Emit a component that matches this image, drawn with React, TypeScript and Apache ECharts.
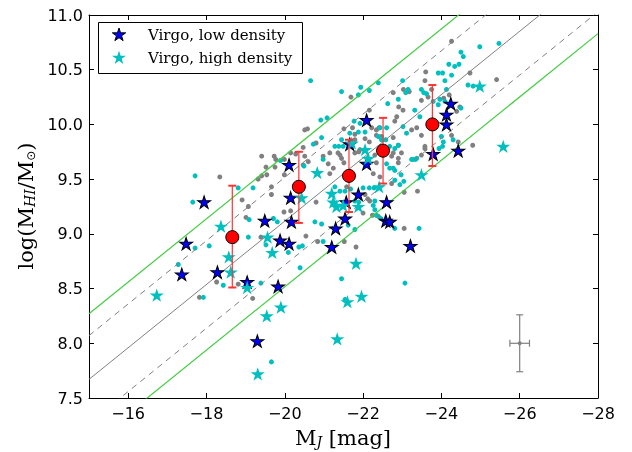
import React, { useEffect, useRef } from "react";
import * as echarts from "echarts";

// ---- data ----
const grayDots: [number, number][] = [
  [-18.34, 9.52], [-19.41, 9.71], [-19.73, 9.71], [-19.77, 9.68], [-19.52, 9.61], [-19.99, 9.68], [-20.15, 9.74], [-20.28, 9.73], [-20.47, 9.79], [-20.51, 9.95],
  [-19.54, 9.54], [-19.66, 9.43], [-19.99, 9.54], [-21.15, 9.55], [-21.36, 9.74], [-21.45, 9.69], [-21.51, 9.65], [-20.8, 9.29], [-18.91, 9.31], [-19.07, 9.25],
  [-21.69, 10.25], [-22.16, 10.13], [-22.77, 10.29], [-22.91, 10.16], [-22.86, 10.07], [-22.81, 10.03], [-23.02, 10.13], [-20.58, 9.96], [-21.51, 9.96], [-21.73, 9.97],
  [-21.79, 9.91], [-22.05, 9.87], [-22.16, 9.84], [-22.34, 9.9], [-22.41, 9.97], [-20.8, 9.83], [-20.98, 9.71], [-21.15, 9.74], [-21.41, 9.72], [-20.51, 9.71],
  [-20.6, 9.66], [-20.47, 9.63], [-21.11, 9.64], [-21.24, 9.6], [-22.3, 9.72], [-22.34, 9.65], [-22.77, 9.74], [-22.9, 9.69], [-22.98, 9.74], [-21.79, 9.74],
  [-21.89, 9.75], [-24.26, 10.76], [-23.6, 10.48], [-23.58, 10.4], [-24.73, 10.47], [-25.41, 10.41], [-23.18, 10.3], [-23.75, 10.32], [-23.66, 10.25], [-23.49, 10.22],
  [-24.2, 10.27], [-24.06, 10.24], [-24.47, 10.16], [-24.39, 10.12], [-23.58, 9.78], [-24.43, 9.84], [-24.8, 9.81], [-23.49, 9.72], [-23.39, 9.39], [-23.05, 9.38],
  [-19.32, 9.5], [-19.41, 9.53], [-19.75, 9.61], [-19.66, 9.36], [-19.01, 9.15], [-19.39, 8.97], [-18.26, 8.56], [-18.81, 8.54], [-19.98, 9.2], [-20.15, 9.21],
  [-20.54, 8.98], [-21.52, 8.93], [-21.82, 8.88], [-22.24, 9.17], [-22.39, 9.16], [-22.05, 9.36], [-22.12, 9.32], [-22.17, 9.3], [-19.18, 8.41], [-17.82, 8.42],
  [-20.84, 8.93], [-22.0, 9.19], [-23.05, 9.05], [-22.22, 9.97], [-22.34, 9.95], [-22.47, 9.89], [-22.77, 9.88], [-22.9, 9.81], [-23.24, 9.95], [-23.37, 9.97],
  [-23.49, 9.9], [-23.66, 10.0], [-21.79, 9.86], [-21.92, 9.77], [-22.43, 9.77], [-22.73, 9.71], [-22.9, 9.65], [-22.26, 9.55], [-22.43, 9.52], [-22.73, 9.46],
  [-21.58, 9.43], [-23.58, 9.8], [-24.26, 9.9], [-23.03, 10.32],
];

const cyanDots: [number, number][] = [
  [-20.66, 10.4], [-21.45, 10.3], [-20.92, 10.04], [-21.08, 10.06], [-20.94, 9.88], [-20.73, 9.82], [-21.45, 9.86], [-21.28, 9.8], [-21.38, 9.8], [-21.49, 9.8],
  [-21.66, 9.92], [-19.89, 9.67], [-17.71, 9.53], [-18.81, 9.42], [-17.65, 9.29], [-20.49, 9.62], [-20.98, 9.68], [-21.94, 10.34], [-22.39, 10.38], [-22.16, 10.31],
  [-21.88, 10.27], [-23.01, 10.4], [-22.9, 10.23], [-22.63, 10.19], [-21.77, 10.03], [-21.92, 10.01], [-21.88, 9.93], [-22.05, 9.93], [-22.43, 9.97], [-22.6, 9.97],
  [-22.39, 9.89], [-22.47, 9.86], [-22.58, 9.86], [-22.68, 9.8], [-22.81, 9.78], [-22.9, 9.81], [-22.6, 9.64], [-22.68, 9.6], [-24.98, 10.71], [-25.47, 10.74],
  [-24.5, 10.66], [-24.56, 10.62], [-24.19, 10.55], [-24.34, 10.53], [-24.45, 10.55], [-23.92, 10.47], [-24.03, 10.47], [-24.26, 10.45], [-24.09, 10.4], [-24.13, 10.32],
  [-24.68, 10.36], [-24.81, 10.35], [-23.09, 10.29], [-23.15, 10.32], [-23.49, 10.32], [-23.55, 10.29], [-23.62, 10.28], [-23.96, 10.23], [-24.09, 10.21], [-23.79, 10.21],
  [-23.92, 10.18], [-23.32, 10.13], [-23.45, 10.07], [-23.02, 9.98], [-23.11, 9.92], [-24.0, 9.89], [-24.05, 9.84], [-23.94, 9.78], [-24.03, 9.8], [-24.3, 9.86],
  [-24.5, 10.15], [-23.28, 9.68], [-23.37, 9.69], [-19.19, 9.42], [-18.07, 8.89], [-17.71, 8.87], [-17.28, 8.72], [-19.07, 8.97], [-19.09, 9.13], [-19.71, 9.14],
  [-19.81, 9.11], [-19.52, 8.9], [-18.43, 8.53], [-19.39, 8.55], [-17.92, 8.42], [-20.77, 9.11], [-20.94, 9.09], [-20.36, 8.88], [-20.45, 8.89], [-20.09, 8.83],
  [-20.98, 8.93], [-21.28, 9.43], [-21.41, 9.39], [-21.54, 9.39], [-21.68, 9.41], [-22.0, 9.42], [-22.16, 9.42], [-22.28, 9.42], [-21.79, 9.3],
  [-21.89, 9.29], [-21.62, 9.08], [-21.79, 9.04], [-22.3, 9.22], [-22.34, 9.17], [-22.45, 9.14], [-22.56, 9.1], [-22.77, 9.6], [-22.81, 9.49], [-22.94, 9.45],
  [-23.04, 9.48], [-20.39, 8.69], [-21.45, 8.59], [-23.07, 8.55], [-19.66, 7.83], [-21.54, 8.4], [-22.26, 9.26], [-22.81, 9.05], [-23.43, 9.05], [-22.81, 9.58],
  [-22.97, 9.54], [-23.24, 9.68], [-23.34, 9.68], [-22.3, 9.3],
];

const lowDensityStars: [number, number][] = [
  [-17.37, 8.63], [-17.48, 8.91], [-17.94, 9.29], [-18.28, 8.65], [-19.04, 8.56], [-19.3, 8.02], [-19.49, 9.12], [-19.83, 8.52], [-19.88, 8.94], [-20.11, 8.91],
  [-20.17, 9.11], [-20.11, 9.63], [-20.15, 9.33], [-21.3, 9.05], [-21.2, 8.88], [-21.54, 9.14], [-22.09, 10.04], [-22.09, 9.64], [-21.88, 9.36], [-22.6, 9.29],
  [-22.58, 9.12], [-22.68, 9.11], [-23.21, 8.89], [-23.79, 9.73], [-24.43, 9.76], [-24.13, 10.09], [-24.13, 10.0], [-24.24, 10.19], [-21.66, 9.82], [-21.57, 9.29],
];

const highDensityStars: [number, number][] = [
  [-20.83, 9.56], [-20.43, 9.33], [-21.2, 9.37], [-18.37, 9.07], [-18.57, 8.79], [-18.62, 8.65], [-16.73, 8.44], [-19.04, 8.51], [-19.56, 8.97], [-19.68, 8.83],
  [-19.9, 8.33], [-19.54, 8.25], [-19.31, 7.72], [-21.34, 8.04], [-21.6, 8.38], [-21.88, 9.25], [-21.82, 8.73], [-21.96, 8.43], [-24.98, 10.35], [-25.58, 9.8],
  [-23.49, 9.54], [-22.41, 9.43], [-22.13, 9.69], [-22.05, 9.77], [-21.71, 9.83], [-21.24, 9.29], [-21.32, 9.25], [-21.49, 9.26],
];

const binX = [-18.66, -20.36, -21.64, -22.51, -23.77];
const binY = [8.97, 9.43, 9.53, 9.76, 10.0];
const binLow = [8.51, 9.1, 9.2, 9.46, 9.62];
const binHigh = [9.44, 9.75, 9.86, 10.06, 10.36];

const relationX = [-15, -28];
const relationY = [7.67, 11.43];
const dashedOffset = 0.4;
const greenOffset = 0.6;

const typicalErr = [[-26, 8.0, 0.25, 0.26]];

const legendLabels = ["Virgo, low density", "Virgo, high density"];

const BLUE = "#0000ff";
const CYAN = "#00bfbf";
const GRAY = "#808080";
const GREEN = "#44cc44";
const STAR =
  "path://M0,-1L0.2245,-0.309L0.951,-0.309L0.363,0.118L0.588,0.809L0,0.382L-0.588,0.809L-0.363,0.118L-0.951,-0.309L-0.2245,-0.309Z";

function starPts(cx: number, cy: number, r: number) {
  const pts: number[][] = [];
  for (let k = 0; k < 10; k++) {
    const a = -Math.PI / 2 + (k * Math.PI) / 5;
    const rr = k % 2 === 0 ? r : r * 0.382;
    pts.push([cx + rr * Math.cos(a), cy + rr * Math.sin(a)]);
  }
  return pts;
}

function relLine(off: number) {
  return relationX.map((x, i) => [x, relationY[i] + off]);
}

export default function App() {
  const ref = useRef<HTMLDivElement>(null);
  useEffect(() => {
    if (!ref.current) return;
    const chart = echarts.init(ref.current, null, { renderer: "svg" });
    const tickFont = { fontFamily: "DejaVu Sans", fontSize: 16, color: "#000" };
    const axisLine = { show: true, lineStyle: { color: "#000", width: 1 } };
    const axisTick = { show: true, inside: true, length: 5, lineStyle: { color: "#000", width: 1 } };
    const xBase = { type: "value", min: -28, max: -15, interval: 2, inverse: true, splitLine: { show: false }, axisLine, axisTick };
    const yBase = { type: "value", min: 7.5, max: 11, interval: 0.5, splitLine: { show: false }, axisLine, axisTick };
    const mainRich = {
      m: { fontFamily: "DejaVu Serif", fontSize: 21, lineHeight: 22, verticalAlign: "top", color: "#000" },
      s: { fontFamily: "DejaVu Serif", fontStyle: "italic", fontSize: 14, lineHeight: 14, verticalAlign: "bottom", padding: [12, 0, 0, 0], color: "#000" },
      o: { fontFamily: "DejaVu Sans", fontSize: 12, lineHeight: 12, verticalAlign: "bottom", padding: [12, 0, 0, 0], color: "#000" },
    };
    const lineSeries = (data: number[][], color: string, type: any, width: number) => ({
      type: "line",
      data,
      symbol: "none",
      silent: true,
      clip: true,
      z: 3,
      lineStyle: { color, width, type, opacity: 1 },
    });
    chart.setOption({
      animation: false,
      grid: { left: 89, right: 34, top: 15, bottom: 54 },
      xAxis: [
        { ...xBase, position: "bottom", axisLabel: { ...tickFont, margin: 7, formatter: (v: number) => (v === -15 ? "" : "\u2212" + Math.abs(v)) } },
        { ...xBase, position: "top", axisLabel: { show: false } },
      ],
      yAxis: [
        { ...yBase, position: "left", axisLabel: { ...tickFont, margin: 6, formatter: (v: number) => v.toFixed(1) } },
        { ...yBase, position: "right", axisLabel: { show: false } },
      ],
      series: [
        { type: "scatter", data: grayDots, symbol: "circle", symbolSize: 5, itemStyle: { color: GRAY, opacity: 1 }, z: 1 },
        { type: "scatter", data: cyanDots, symbol: "circle", symbolSize: 5, itemStyle: { color: CYAN, opacity: 1 }, z: 2 },
        lineSeries(relLine(0), GRAY, "solid", 1),
        lineSeries(relLine(dashedOffset), GRAY, [6, 5], 1),
        lineSeries(relLine(-dashedOffset), GRAY, [6, 5], 1),
        lineSeries(relLine(greenOffset), GREEN, "solid", 1.2),
        lineSeries(relLine(-greenOffset), GREEN, "solid", 1.2),
        { type: "scatter", name: legendLabels[0], data: lowDensityStars, symbol: STAR, symbolSize: [13, 12.4], itemStyle: { color: BLUE, borderColor: "#000", borderWidth: 1, opacity: 1 }, z: 4 },
        { type: "scatter", name: legendLabels[1], data: highDensityStars, symbol: STAR, symbolSize: [14, 13.3], itemStyle: { color: CYAN, opacity: 1 }, z: 5 },
        {
          type: "custom",
          data: binX.map((x, i) => [x, binY[i], binLow[i], binHigh[i]]),
          encode: { x: 0, y: 1 },
          z: 6,
          renderItem: (_p: any, api: any) => {
            const x = api.value(0);
            const top = api.coord([x, api.value(3)]);
            const bot = api.coord([x, api.value(2)]);
            const st = { stroke: "#ff3333", lineWidth: 1.2 };
            const cs = { stroke: "#ff3333", lineWidth: 2 };
            return {
              type: "group",
              children: [
                { type: "line", shape: { x1: top[0], y1: top[1], x2: bot[0], y2: bot[1] }, style: st },
                { type: "line", shape: { x1: top[0] - 4, y1: top[1], x2: top[0] + 4, y2: top[1] }, style: cs },
                { type: "line", shape: { x1: bot[0] - 4, y1: bot[1], x2: bot[0] + 4, y2: bot[1] }, style: cs },
              ],
            };
          },
        },
        { type: "scatter", data: binX.map((x, i) => [x, binY[i]]), symbol: "circle", symbolSize: 13, itemStyle: { color: "#ff0000", borderColor: "#000", borderWidth: 1, opacity: 1 }, z: 7 },
        {
          type: "custom",
          data: typicalErr,
          encode: { x: 0, y: 1 },
          z: 6,
          renderItem: (_p: any, api: any) => {
            const x = api.value(0), y = api.value(1), dx = api.value(2), dy = api.value(3);
            const c = api.coord([x, y]);
            const t = api.coord([x, y + dy]);
            const b = api.coord([x, y - dy]);
            const l = api.coord([x + dx, y]);
            const r = api.coord([x - dx, y]);
            const st = { stroke: GRAY, lineWidth: 1.2 };
            return {
              type: "group",
              children: [
                { type: "line", shape: { x1: t[0], y1: t[1], x2: b[0], y2: b[1] }, style: st },
                { type: "line", shape: { x1: t[0] - 3.5, y1: t[1], x2: t[0] + 3.5, y2: t[1] }, style: st },
                { type: "line", shape: { x1: b[0] - 3.5, y1: b[1], x2: b[0] + 3.5, y2: b[1] }, style: st },
                { type: "line", shape: { x1: l[0], y1: l[1], x2: r[0], y2: r[1] }, style: st },
                { type: "line", shape: { x1: l[0], y1: l[1] - 3.5, x2: l[0], y2: l[1] + 3.5 }, style: st },
                { type: "line", shape: { x1: r[0], y1: r[1] - 3.5, x2: r[0], y2: r[1] + 3.5 }, style: st },
                { type: "circle", shape: { cx: c[0], cy: c[1], r: 2 }, style: { fill: GRAY } },
              ],
            };
          },
        },
      ],
      graphic: [
        { type: "rect", shape: { x: 98.5, y: 22.5, width: 204, height: 51 }, style: { fill: "#fff", stroke: "#000", lineWidth: 1 }, z: 100 },
        { type: "polygon", shape: { points: starPts(119, 35, 7) }, style: { fill: BLUE, stroke: "#000", lineWidth: 1 }, z: 101 },
        { type: "polygon", shape: { points: starPts(119, 58, 7.3) }, style: { fill: CYAN }, z: 101 },
        { type: "text", x: 148, y: 35, style: { text: legendLabels[0], fontFamily: "DejaVu Serif", fontSize: 15, fill: "#000", verticalAlign: "middle", align: "left" }, z: 101 },
        { type: "text", x: 148, y: 58, style: { text: legendLabels[1], fontFamily: "DejaVu Serif", fontSize: 15, fill: "#000", verticalAlign: "middle", align: "left" }, z: 101 },
        {
          type: "text",
          x: 343,
          y: 438,
          style: { text: "{m|M}{s|J}{m| [mag]}", rich: mainRich, align: "center", verticalAlign: "middle" },
        },
        {
          type: "text",
          x: 26,
          y: 206,
          rotation: Math.PI / 2,
          style: { text: "{m|log(M}{s|HI}{m|/M}{o|\u2299}{m|)}", rich: mainRich, align: "center", verticalAlign: "middle" },
        },
      ],
    });
    return () => chart.dispose();
  }, []);
  return <div ref={ref} style={{ position: "fixed", left: 0, top: 0, width: 632, height: 452 }} />;
}
